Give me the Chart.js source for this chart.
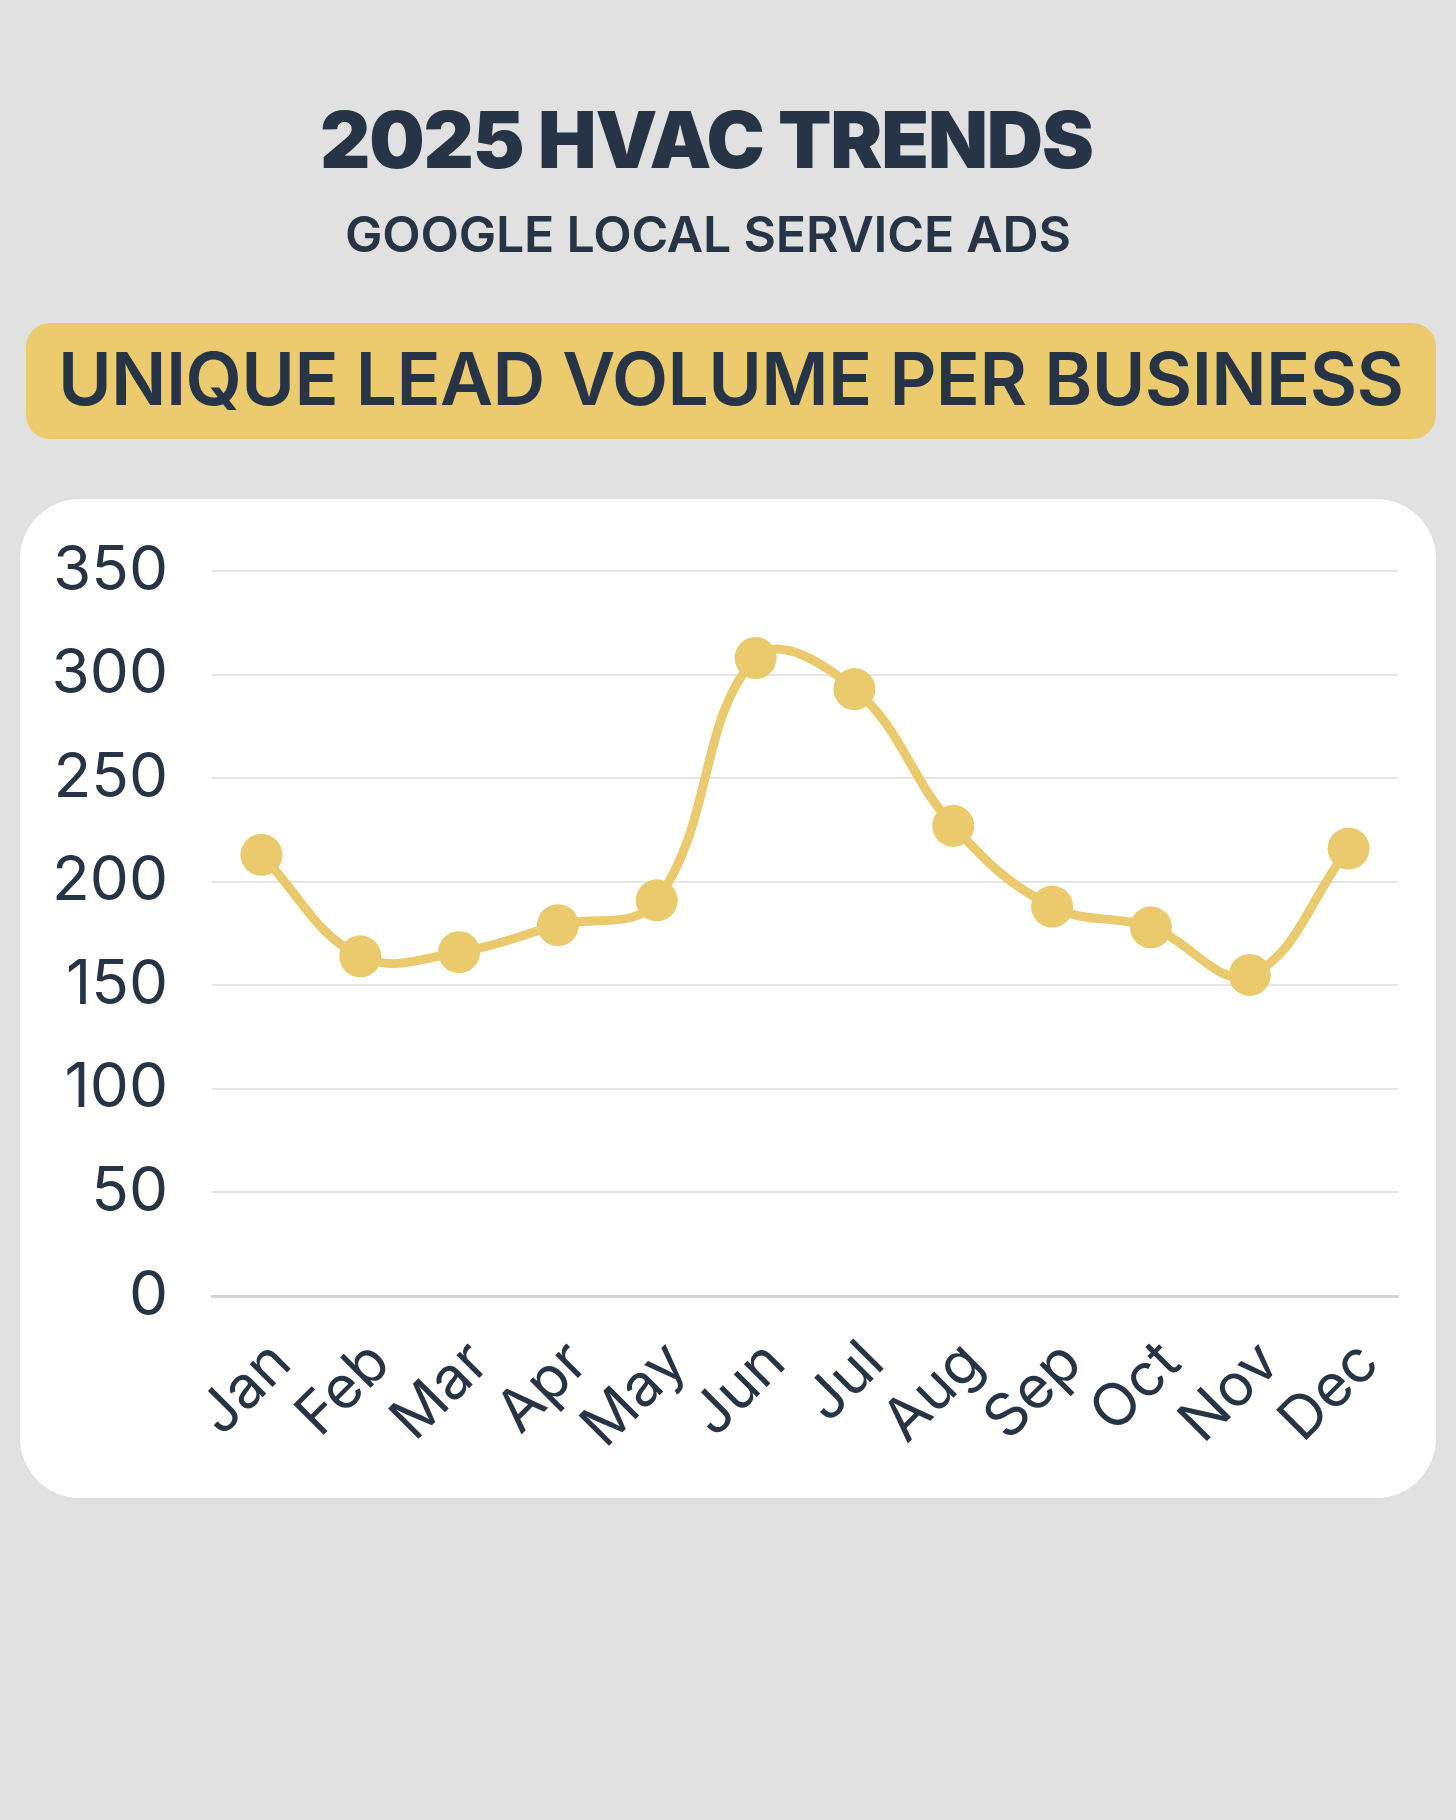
<!DOCTYPE html>
<html>
<head>
<meta charset="utf-8">
<script src="https://cdn.jsdelivr.net/npm/chart.js@4.4.1/dist/chart.umd.min.js"></script>
<style>
  html, body { margin: 0; padding: 0; background: #e1e1e1; }
  body { width: 1456px; height: 1820px; position: relative; overflow: hidden; font-family: Inter, "Noto Sans", sans-serif; color: #263445; }
  .t { position: absolute; white-space: nowrap; line-height: 1; }
  #title { font-weight: 900; font-size: 78px; top: 101px; left: 320px; }
  #sub { font-weight: 600; font-size: 50px; top: 209px; left: 345px; }
  #banner { position: absolute; left: 26px; top: 323px; width: 1410px; height: 116px; background: #ecca6e; border-radius: 24px; }
  #btext { font-weight: 600; font-size: 73px; top: 342px; left: 58px; }
  #card { position: absolute; left: 20px; top: 499px; width: 1416px; height: 999px; background: #ffffff; border-radius: 60px; }
  #chart { position: absolute; left: 20px; top: 499px; }
</style>
</head>
<body>
<div id="banner"></div>
<div class="t" id="title" data-w="774">2025 HVAC TRENDS</div>
<div class="t" id="sub" data-w="726">GOOGLE LOCAL SERVICE ADS</div>
<div class="t" id="btext" data-w="1346">UNIQUE LEAD VOLUME PER BUSINESS</div>
<div id="card"></div>
<canvas id="chart" width="1416" height="999" style="width:1416px;height:999px"></canvas>
<script>
const months = ["Jan","Feb","Mar","Apr","May","Jun","Jul","Aug","Sep","Oct","Nov","Dec"];
const leadVolume = [213, 164, 166, 179, 191, 308, 293, 227, 188, 178, 155, 216];
const yMin = 0;
const yMax = 350;
const yStep = 50;

// fit header texts to measured widths via letter-spacing
document.querySelectorAll('.t[data-w]').forEach(el => {
  const target = +el.dataset.w;
  const n = el.textContent.length;
  const w = el.getBoundingClientRect().width;
  el.style.letterSpacing = ((target - w) / (n - 1)) + 'px';
});

const gold = '#eaca6c';
const ink = '#263445';

new Chart(document.getElementById('chart'), {
  type: 'line',
  data: {
    labels: months,
    datasets: [{
      data: leadVolume,
      borderColor: gold,
      backgroundColor: gold,
      borderWidth: 9,
      pointRadius: 21,
      pointHoverRadius: 21,
      pointBackgroundColor: gold,
      pointBorderWidth: 0,
      tension: 0.4,
      fill: false
    }]
  },
  options: {
    responsive: false,
    animation: false,
    devicePixelRatio: 1,
    layout: { padding: { top: 72, right: 38, left: 0, bottom: 0 } },
    plugins: { legend: { display: false }, tooltip: { enabled: false } },
    scales: {
      y: {
        min: yMin, max: yMax,
        ticks: { stepSize: yStep, color: ink, font: { family: 'Inter', size: 62 }, padding: 44 },
        grid: { color: '#e6e6e6', lineWidth: 2, drawTicks: false },
        border: { display: false },
        afterFit: s => { s.width = 192; s.paddingTop = 0; s.paddingBottom = 0; }
      },
      x: {
        offset: true,
        ticks: { color: ink, font: { family: 'Inter', size: 59 }, minRotation: 45, maxRotation: 45, padding: 32, labelOffset: 20, autoSkip: false },
        grid: { display: false, drawTicks: false },
        border: { display: true, color: '#d3d6da', width: 3 },
        afterFit: s => { s.height = 202; s.paddingLeft = 0; s.paddingRight = 0; }
      }
    }
  }
});
</script>
</body>
</html>
